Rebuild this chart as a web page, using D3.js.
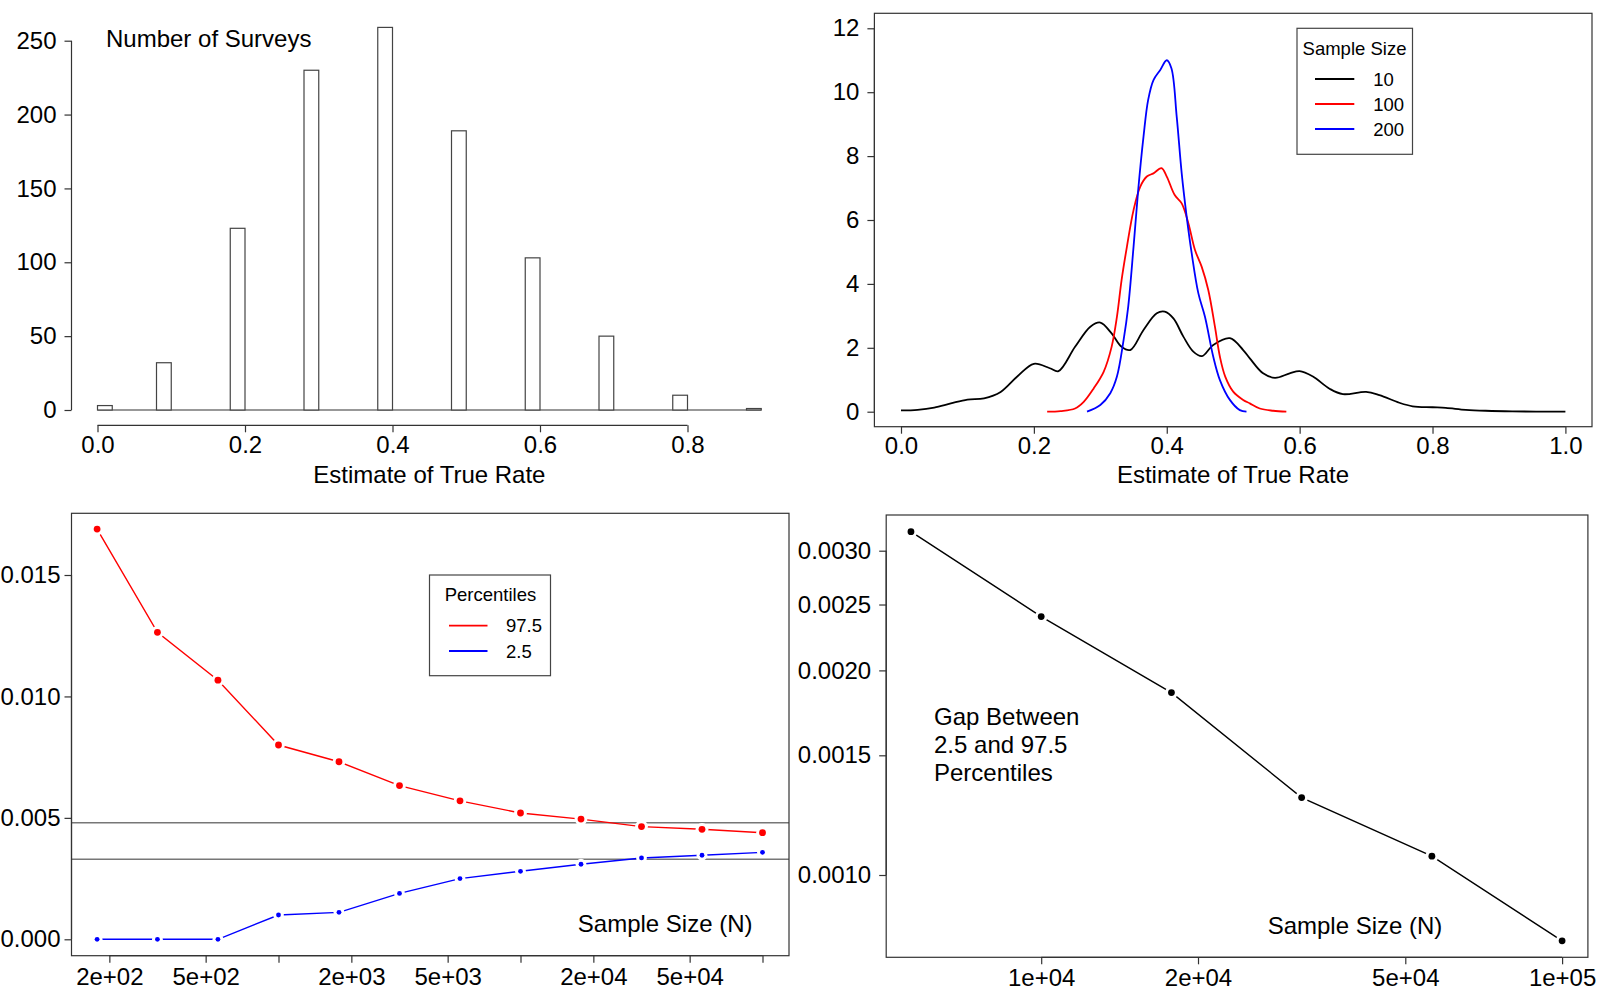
<!DOCTYPE html>
<html>
<head>
<meta charset="utf-8">
<script src="https://cdn.jsdelivr.net/npm/d3@7"></script>
<style>
  body { margin: 0; background: #fff; }
  text { font-family: "Liberation Sans", Arial, sans-serif; fill: #000; }
  .tick text { font-size: 24px; }
  .tick line { stroke: #333; stroke-width: 1.2; }
  .domain { stroke: #333; stroke-width: 1.2; }
  .label { font-size: 24px; }
  .legend text { font-size: 18.5px; }
</style>
</head>
<body>
<script>
// ---- data ----
// histogram of survey estimates (n = 10)
const histRates = [0.0, 0.1, 0.2, 0.3, 0.4, 0.5, 0.6, 0.7, 0.8, 0.9];
const histCounts = [3, 32, 123, 230, 259, 189, 103, 50, 10, 1];
const binWidth = 0.02;

// density curves by sample size, [estimate, density]
const density10 = [
  [0.00, 0.04], [0.025, 0.06], [0.05, 0.13], [0.075, 0.26], [0.10, 0.38], [0.125, 0.42],
  [0.15, 0.62], [0.175, 1.1], [0.20, 1.5], [0.224, 1.36], [0.237, 1.27], [0.262, 2.03],
  [0.285, 2.66], [0.30, 2.79], [0.317, 2.45], [0.332, 2.03], [0.345, 1.93], [0.365, 2.56],
  [0.385, 3.08], [0.397, 3.13], [0.41, 2.92], [0.425, 2.35], [0.44, 1.88], [0.453, 1.74],
  [0.47, 2.09], [0.495, 2.3], [0.515, 1.93], [0.525, 1.67], [0.545, 1.2], [0.563, 1.06],
  [0.585, 1.2], [0.60, 1.27], [0.62, 1.1], [0.645, 0.72], [0.665, 0.55], [0.70, 0.62],
  [0.72, 0.52], [0.75, 0.28], [0.77, 0.17], [0.80, 0.14], [0.82, 0.12], [0.85, 0.06],
  [0.88, 0.03], [0.92, 0.01], [1.00, 0.0]
];
const density100 = [
  [0.22, 0.0], [0.24, 0.02], [0.262, 0.1], [0.275, 0.31], [0.29, 0.73], [0.305, 1.25],
  [0.317, 2.03], [0.325, 2.97], [0.332, 4.12], [0.34, 5.16], [0.35, 6.31], [0.36, 7.04],
  [0.37, 7.36], [0.38, 7.46], [0.392, 7.62], [0.40, 7.36], [0.412, 6.78], [0.4225, 6.52],
  [0.4325, 5.9], [0.4425, 5.06], [0.4525, 4.54], [0.4625, 3.81], [0.4725, 2.66], [0.48, 1.72],
  [0.488, 1.1], [0.50, 0.63], [0.515, 0.37], [0.525, 0.26], [0.54, 0.1], [0.56, 0.03], [0.58, 0.0]
];
const density200 = [
  [0.28, 0.0], [0.30, 0.21], [0.315, 0.58], [0.325, 1.1], [0.335, 2.24], [0.342, 3.29],
  [0.35, 5.16], [0.357, 6.94], [0.365, 8.61], [0.372, 9.76], [0.38, 10.38], [0.39, 10.69],
  [0.40, 11.0], [0.407, 10.75], [0.415, 9.23], [0.4225, 7.46], [0.43, 6.1], [0.4375, 4.96],
  [0.4475, 3.71], [0.4575, 2.97], [0.47, 1.72], [0.48, 0.99], [0.495, 0.37], [0.51, 0.05], [0.52, 0.0]
];
const densitySeries = [
  { name: "10", color: "#000", values: density10 },
  { name: "100", color: "#ff0000", values: density100 },
  { name: "200", color: "#0000ff", values: density200 }
];

// percentiles by sample size
const sampleSizes = [178, 316, 562, 1000, 1778, 3162, 5623, 10000, 17783, 31623, 56234, 100000];
const upper975 = [0.01689, 0.01264, 0.01067, 0.0080, 0.00731, 0.00633, 0.0057, 0.0052, 0.00495, 0.00464, 0.00453, 0.00439];
const lower25 = [0, 0, 0, 0.0010, 0.00111, 0.00189, 0.0025, 0.0028, 0.00309, 0.00335, 0.00346, 0.00358];
const refLines = [0.0048, 0.0033];

// gap between percentiles
const gapSizes = [5623, 10000, 17783, 31623, 56234, 100000];
const gapValues = [0.0032, 0.0024, 0.001855, 0.0013, 0.001066, 0.0008];

const logTicksLeft = [200, 500, 1000, 2000, 5000, 10000, 20000, 50000, 100000];
const logLabelsLeft = [200, 500, 2000, 5000, 20000, 50000];
const logTicksRight = [10000, 20000, 50000, 100000];
const gapTicks = [0.0010, 0.0015, 0.0020, 0.0025, 0.0030];

// ---- drawing ----
const svg = d3.select("body").append("svg")
  .attr("width", 1600).attr("height", 1000);

const sci = d => {
  const e = Math.floor(Math.log10(d));
  const m = Math.round(d / Math.pow(10, e));
  return `${m}e+${String(e).padStart(2, "0")}`;
};

// R-style axis: domain line only from first to last tick
function leftAxis(g, scale, ticks, fmt, pad = 8) {
  g.call(d3.axisLeft(scale).tickValues(ticks).tickFormat(fmt).tickSize(7).tickPadding(pad))
    .call(a => a.select(".domain").attr("d", `M0,${scale(ticks[0])}V${scale(ticks[ticks.length - 1])}`));
}
function bottomAxis(g, scale, ticks, fmt, pad) {
  g.call(d3.axisBottom(scale).tickValues(ticks).tickFormat(fmt).tickSize(7).tickPadding(pad))
    .call(a => a.select(".domain").attr("d", `M${scale(ticks[0])},0H${scale(ticks[ticks.length - 1])}`));
}
function box(x0, x1, y0, y1) {
  svg.append("rect")
    .attr("x", x0).attr("y", y0).attr("width", x1 - x0).attr("height", y1 - y0)
    .attr("fill", "none").attr("stroke", "#333").attr("stroke-width", 1.2);
}
// lines with gaps around points (like R type = "b")
function pointsLine(xs, ys, xScale, yScale, color, r, width) {
  const pts = xs.map((x, i) => [xScale(x), yScale(ys[i])]);
  svg.append("path")
    .attr("d", d3.line()(pts))
    .attr("fill", "none").attr("stroke", color).attr("stroke-width", width);
  svg.append("g").selectAll("circle.halo").data(pts).join("circle")
    .attr("cx", d => d[0]).attr("cy", d => d[1]).attr("r", r + 3).attr("fill", "#fff");
  svg.append("g").selectAll("circle.pt").data(pts).join("circle")
    .attr("cx", d => d[0]).attr("cy", d => d[1]).attr("r", r).attr("fill", color);
}

// ===== top-left: histogram =====
{
  const x = d3.scaleLinear().domain([0, 0.8]).range([97.5, 687.5]);
  const y = d3.scaleLinear().domain([0, 250]).range([410, 40.7]);

  // empty bins drawn at zero height
  svg.append("line")
    .attr("x1", x(0)).attr("x2", x(0.9)).attr("y1", y(0)).attr("y2", y(0))
    .attr("stroke", "#333").attr("stroke-width", 1.2);

  svg.append("g").selectAll("rect")
    .data(histRates.map((r, i) => ({ rate: r, count: histCounts[i] })))
    .join("rect")
      .attr("x", d => x(d.rate === 0 ? 0 : d.rate - binWidth))
      .attr("y", d => y(d.count))
      .attr("width", x(binWidth) - x(0))
      .attr("height", d => y(0) - y(d.count))
      .attr("fill", "#fff").attr("stroke", "#444").attr("stroke-width", 1.2);

  leftAxis(svg.append("g").attr("transform", "translate(71.5,0)"), y, [0, 50, 100, 150, 200, 250], d3.format("d"));
  bottomAxis(svg.append("g").attr("transform", "translate(0,425.3)"), x, [0, 0.2, 0.4, 0.6, 0.8], d3.format(".1f"), 4);

  svg.append("text").attr("class", "label").attr("x", 106).attr("y", 47).text("Number of Surveys");
  svg.append("text").attr("class", "label").attr("x", 429.4).attr("y", 482.5)
    .attr("text-anchor", "middle").text("Estimate of True Rate");
}

// ===== top-right: density curves =====
{
  const x = d3.scaleLinear().domain([0, 1]).range([901, 1565.4]);
  const y = d3.scaleLinear().domain([0, 12]).range([411.7, 28.3]);
  const line = d3.line().x(d => x(d[0])).y(d => y(d[1])).curve(d3.curveCatmullRom.alpha(0.5));

  svg.append("g").selectAll("path")
    .data(densitySeries)
    .join("path")
      .attr("d", d => line(d.values))
      .attr("fill", "none").attr("stroke", d => d.color).attr("stroke-width", 1.8);

  box(874.4, 1592, 13.3, 426.7);
  leftAxis(svg.append("g").attr("transform", "translate(874.4,0)"), y, [0, 2, 4, 6, 8, 10, 12], d3.format("d"));
  bottomAxis(svg.append("g").attr("transform", "translate(0,426.7)"), x, [0, 0.2, 0.4, 0.6, 0.8, 1.0], d3.format(".1f"), 3);

  svg.append("text").attr("class", "label").attr("x", 1233).attr("y", 482.5)
    .attr("text-anchor", "middle").text("Estimate of True Rate");

  const lg = svg.append("g").attr("class", "legend");
  lg.append("rect").attr("x", 1297).attr("y", 28.3).attr("width", 115.5).attr("height", 126)
    .attr("fill", "#fff").attr("stroke", "#444").attr("stroke-width", 1.2);
  lg.append("text").attr("x", 1354.5).attr("y", 54.8).attr("text-anchor", "middle").text("Sample Size");
  densitySeries.forEach((s, i) => {
    const yy = 79 + i * 25;
    lg.append("line").attr("x1", 1315).attr("x2", 1354.3).attr("y1", yy).attr("y2", yy)
      .attr("stroke", s.color).attr("stroke-width", 1.8);
    lg.append("text").attr("x", 1373.3).attr("y", yy + 6.5).text(s.name);
  });
}

// ===== bottom-left: percentiles =====
{
  const x = d3.scaleLog().domain([1000, 100000]).range([278.5, 762.5]);
  const y = d3.scaleLinear().domain([0, 0.015]).range([939.3, 575]);

  svg.append("g").selectAll("line")
    .data(refLines)
    .join("line")
      .attr("x1", 71.5).attr("x2", 789).attr("y1", d => y(d)).attr("y2", d => y(d))
      .attr("stroke", "#777").attr("stroke-width", 1.5);

  pointsLine(sampleSizes, upper975, x, y, "#ff0000", 3.4, 1.4);
  pointsLine(sampleSizes, lower25, x, y, "#0000ff", 2.4, 1.4);

  box(71.5, 789, 513.3, 955.7);
  // labels pulled in a little so they stay inside the page
  leftAxis(svg.append("g").attr("transform", "translate(71.5,0)"), y, [0, 0.005, 0.010, 0.015], d3.format(".3f"), 4);
  bottomAxis(svg.append("g").attr("transform", "translate(0,955.7)"), x, logTicksLeft,
    d => logLabelsLeft.includes(d) ? sci(d) : "", 5);

  svg.append("text").attr("class", "label").attr("x", 752.5).attr("y", 932)
    .attr("text-anchor", "end").text("Sample Size (N)");

  const lg = svg.append("g").attr("class", "legend");
  lg.append("rect").attr("x", 429.5).attr("y", 575).attr("width", 121).attr("height", 100.7)
    .attr("fill", "#fff").attr("stroke", "#444").attr("stroke-width", 1.2);
  lg.append("text").attr("x", 490.5).attr("y", 600.8).attr("text-anchor", "middle").text("Percentiles");
  [["97.5", "#ff0000"], ["2.5", "#0000ff"]].forEach(([name, color], i) => {
    const yy = 625.7 + i * 25.3;
    lg.append("line").attr("x1", 449).attr("x2", 487.5).attr("y1", yy).attr("y2", yy)
      .attr("stroke", color).attr("stroke-width", 1.8);
    lg.append("text").attr("x", 506).attr("y", yy + 6.5).text(name);
  });
}

// ===== bottom-right: gap =====
{
  const x = d3.scaleLog().domain([10000, 100000]).range([1041.2, 1562.1]);
  const y = d3.scaleLog().domain([0.001, 0.003]).range([875, 550.7]);

  pointsLine(gapSizes, gapValues, x, y, "#000", 3.4, 1.4);

  box(886.2, 1587.9, 515, 957.3);
  leftAxis(svg.append("g").attr("transform", "translate(886.2,0)"), y, gapTicks, d3.format(".4f"));
  bottomAxis(svg.append("g").attr("transform", "translate(0,957.3)"), x, logTicksRight, sci, 5);

  const note = svg.append("text").attr("class", "label").attr("x", 934).attr("y", 725);
  ["Gap Between", "2.5 and 97.5", "Percentiles"].forEach((t, i) => {
    note.append("tspan").attr("x", 934).attr("dy", i === 0 ? 0 : 28).text(t);
  });
  svg.append("text").attr("class", "label").attr("x", 1355).attr("y", 933.5)
    .attr("text-anchor", "middle").text("Sample Size (N)");
}
</script>
</body>
</html>
